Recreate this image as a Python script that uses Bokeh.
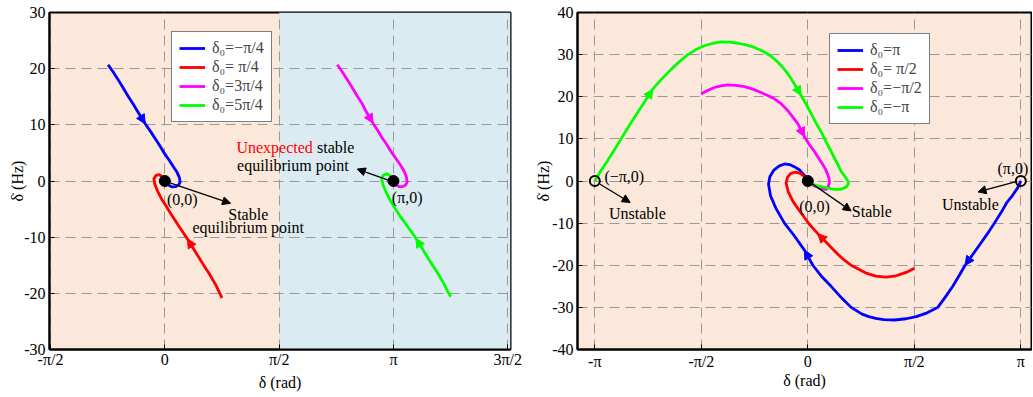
import math
from bokeh.plotting import figure
from bokeh.models import (Arrow, NormalHead, ColumnDataSource, BoxAnnotation, Legend, LegendItem,
                          FixedTicker, CustomJSTickFormatter)
from bokeh.layouts import row
from bokeh.core.properties import value
from bokeh.embed import file_html
from bokeh.resources import INLINE

PI = math.pi
FONT = "'Liberation Serif', 'Times New Roman', 'DejaVu Serif', serif"
FS = "16px"

# ---------------- data : left panel ----------------
L_LABELS = ["δ₀=−π/4", "δ₀= π/4", "δ₀=3π/4", "δ₀=5π/4"]
L_COLORS = ["#0000ff", "#ff0000", "#ff00ff", "#00ff00"]
L_BLUE_X = [-0.78, -0.71, -0.64, -0.57, -0.50, -0.44, -0.38, -0.27, -0.19, -0.12, -0.06, -0.01, 0.06,
            0.12, 0.17, 0.20, 0.21, 0.19, 0.15, 0.10, 0.05, 0.0]
L_BLUE_Y = [20.7, 19.4, 18.0, 16.5, 15.0, 13.8, 12.5, 10.2, 8.7, 7.3, 6.1, 5.0, 3.7,
            2.5, 1.5, 0.6, -0.2, -0.7, -1.0, -1.05, -0.7, 0.0]
L_RED_X = [0.785, 0.74, 0.70, 0.65, 0.60, 0.55, 0.50, 0.40, 0.31, 0.20, 0.14, 0.08, 0.02, -0.04, -0.10,
           -0.14, -0.15, -0.12, -0.08, -0.04, 0.0]
L_RED_Y = [-20.8, -19.6, -18.5, -17.4, -16.3, -15.3, -14.3, -12.2, -10.3, -8.2, -7.0, -5.8, -4.5, -3.3, -1.8,
           -0.5, 0.4, 1.0, 1.15, 0.8, 0.0]
L_MAG_X = [2.37, 2.44, 2.51, 2.58, 2.65, 2.71, 2.76, 2.86, 2.93, 2.99, 3.05, 3.10, 3.17,
           3.24, 3.29, 3.32, 3.33, 3.31, 3.27, 3.22, 3.18, 3.1416]
L_MAG_Y = [20.7, 19.4, 18.0, 16.5, 15.0, 13.8, 12.5, 10.3, 8.9, 7.6, 6.5, 5.4, 4.1,
           2.8, 1.7, 0.7, -0.2, -0.7, -1.0, -1.0, -0.7, 0.0]
L_GRN_X = [3.93, 3.88, 3.84, 3.79, 3.74, 3.69, 3.64, 3.54, 3.45, 3.34, 3.28, 3.22, 3.16, 3.10, 3.04,
           3.00, 2.98, 3.00, 3.05, 3.10, 3.1416]
L_GRN_Y = [-20.6, -19.5, -18.4, -17.3, -16.2, -15.2, -14.2, -12.1, -10.2, -8.2, -7.1, -6.0, -4.8, -3.5, -2.0,
           -0.7, 0.3, 1.0, 1.3, 0.9, 0.0]
L_ARROW_IDX = [[7], [8], [7], [8]]
L_EQ_X = [0.0, PI]
L_EQ_Y = [0.0, 0.0]
L_XTICKS = [-PI / 2, 0, PI / 2, PI, 3 * PI / 2]
L_XTICK_LABELS = ["-π/2", "0", "π/2", "π", "3π/2"]
L_YTICKS = [-30, -20, -10, 0, 10, 20, 30]
L_YTICK_LABELS = ["-30", "-20", "-10", "0", "10", "20", "30"]

# ---------------- data : right panel ----------------
R_LABELS = ["δ₀=π", "δ₀= π/2", "δ₀=−π/2", "δ₀=−π"]
R_COLORS = ["#0000ff", "#ff0000", "#ff00ff", "#00ff00"]
R_BLUE_X = [3.1416, 3.097, 3.02, 2.94, 2.85, 2.752, 2.65, 2.54, 2.43, 2.32, 2.23, 2.138, 2.03, 1.917,
            1.76, 1.60, 1.45, 1.277, 1.12, 1.0, 0.90, 0.80, 0.639, 0.50, 0.344, 0.20, 0.074,
            -0.05, -0.20, -0.345, -0.47, -0.55, -0.58, -0.56, -0.50, -0.42, -0.345, -0.27, -0.20,
            -0.12, -0.05, 0.0]
R_BLUE_Y = [0.0, -1.57, -3.4, -5.0, -7.5, -10.0, -12.5, -15.0, -17.5, -20.0, -22.5, -25.0, -27.5, -30.0,
            -31.3, -32.2, -32.7, -33.0, -32.9, -32.6, -32.2, -31.6, -30.0, -27.8, -25.0, -22.6, -20.0,
            -16.4, -13.0, -10.0, -6.5, -3.5, -0.8, 1.0, 2.6, 3.6, 4.05, 3.9, 3.4,
            2.6, 1.3, 0.0]
R_RED_X = [1.573, 1.45, 1.30, 1.155, 1.0, 0.85, 0.639, 0.54, 0.45, 0.37, 0.30, 0.22, 0.147, 0.08, 0.02,
           -0.04, -0.10, -0.16, -0.22, -0.29, -0.32, -0.30, -0.25, -0.18, -0.11, -0.05, 0.0]
R_RED_Y = [-20.7, -21.7, -22.5, -22.8, -22.6, -21.8, -20.0, -18.8, -17.5, -16.2, -15.0, -13.7, -12.5, -11.3,
           -10.2, -8.9, -7.6, -6.2, -4.8, -2.5, -0.5, 0.9, 1.8, 2.1, 1.8, 1.0, 0.0]
R_MAG_X = [-1.574, -1.48, -1.378, -1.28, -1.18, -1.06, -0.935, -0.81, -0.689, -0.59, -0.492, -0.39, -0.295,
           -0.147, -0.05, 0.02, 0.098, 0.16, 0.221, 0.265, 0.295, 0.315, 0.319, 0.30, 0.27, 0.22, 0.17,
           0.12, 0.074, 0.035, 0.0]
R_MAG_Y = [20.65, 21.5, 22.2, 22.6, 22.8, 22.7, 22.4, 21.8, 21.0, 20.3, 19.5, 18.3, 16.7,
           13.6, 10.5, 8.7, 7.0, 5.4, 3.9, 2.7, 1.5, 0.5, -0.4, -1.3, -2.0, -1.9, -1.6,
           -1.3, -1.0, -0.6, 0.0]
R_GRN_X = [-3.1416, -3.05, -2.95, -2.85, -2.755, -2.64, -2.52, -2.40, -2.288, -2.15, -2.016, -1.89, -1.770,
           -1.65, -1.525, -1.40, -1.279, -1.15, -1.032, -0.91, -0.787, -0.66, -0.541, -0.44, -0.345,
           -0.27, -0.198, -0.099, -0.02, 0.049, 0.12, 0.196, 0.27, 0.344, 0.42, 0.491, 0.55, 0.59,
           0.60, 0.57, 0.49, 0.40, 0.295, 0.18, 0.074, 0.0]
R_GRN_Y = [0.0, 2.5, 4.9, 7.5, 10.0, 13.0, 16.0, 19.0, 21.8, 24.3, 26.5, 28.4, 30.0,
           31.2, 32.1, 32.7, 33.0, 32.95, 32.7, 32.3, 31.7, 30.8, 29.6, 28.2, 26.5,
           24.9, 23.0, 20.3, 18.1, 16.0, 13.8, 11.7, 9.3, 7.0, 4.6, 2.3, 1.0, 0.0,
           -0.6, -1.4, -1.96, -2.0, -1.7, -1.3, -0.8, 0.0]
R_ARROW_IDX = [[9, 27], [12], [14], [8, 27]]
R_STABLE_X = [0.0]
R_STABLE_Y = [0.0]
R_UNSTABLE_X = [-PI, PI]
R_UNSTABLE_Y = [0.0, 0.0]
R_XTICKS = [-PI, -PI / 2, 0, PI / 2, PI]
R_XTICK_LABELS = ["-π", "-π/2", "0", "π/2", "π"]
R_YTICKS = [-40, -30, -20, -10, 0, 10, 20, 30, 40]
R_YTICK_LABELS = ["-40", "-30", "-20", "-10", "0", "10", "20", "30", "40"]

# ---------------- annotations ----------------
L_NOTE_ARROWS = dict(x0=[0.05, 3.08], y0=[-0.25, 0.1], x1=[0.903, 2.644], y1=[-3.97, 2.12])
L_NOTES = dict(x=[0.239, 1.146, 1.146, 3.33, 1.759], y=[-3.34, -5.88, -8.3, -2.93, 2.82],
               text=["(0,0)", "Stable", "equilibrium point", "(π,0)", "equilibrium point"])
R_NOTE_ARROWS = dict(x0=[-3.07, 3.06, 0.03], y0=[-0.7, -0.2, -0.3], x1=[-2.62, 2.51, 0.639], y1=[-5.1, -2.6, -7.1])
R_NOTES = dict(x=[-2.513, 3.024, 2.398, 0.098], y=[-7.6, 2.95, -5.47, -6.0],
               text=["Unstable", "(π,0)", "Unstable", "(0,0)"])

PEACH = "#fbe8da"
LBLUE = "#daecf2"


def fmt(vals, labs):
    return CustomJSTickFormatter(args=dict(vals=vals, labs=labs), code="""
        let best = 0, bd = Infinity;
        for (let i = 0; i < vals.length; i++) { const d = Math.abs(vals[i] - tick); if (d < bd) { bd = d; best = i; } }
        return labs[best];
    """)


def make_fig(width, height, xr, yr, xt, xl, yt, yl, mbl, mbt, mbb, mbr, xstand, ystand, xlstand):
    p = figure(width=width, height=height, x_range=xr, y_range=yr, output_backend="svg",
               toolbar_location=None, min_border_left=mbl, min_border_right=mbr,
               min_border_top=mbt, min_border_bottom=mbb, background_fill_color=PEACH,
               border_fill_color="white")
    p.outline_line_color = "black"
    p.outline_line_width = 2
    p.xaxis.ticker = FixedTicker(ticks=xt)
    p.xaxis.formatter = fmt(xt, xl)
    p.yaxis.ticker = FixedTicker(ticks=yt)
    p.yaxis.formatter = fmt(yt, yl)
    for ax in (p.xaxis[0], p.yaxis[0]):
        ax.axis_line_width = 2
        ax.axis_line_color = "black"
        ax.major_tick_in = 5
        ax.major_tick_out = 0
        ax.major_tick_line_color = "black"
        ax.minor_tick_line_color = None
        ax.major_label_text_font = FONT
        ax.major_label_text_font_size = FS
        ax.major_label_text_color = "black"
        ax.axis_label_text_font = FONT
        ax.axis_label_text_font_size = FS
        ax.axis_label_text_font_style = "normal"
        ax.axis_label_text_color = "black"
    p.xaxis.axis_label = "δ (rad)"
    p.yaxis.axis_label = "δ̇ (Hz)"
    p.xaxis.major_label_standoff = xstand
    p.xaxis.axis_label_standoff = xlstand
    p.yaxis.major_label_standoff = 4
    p.yaxis.axis_label_standoff = ystand
    p.xgrid.ticker = FixedTicker(ticks=xt)
    p.ygrid.ticker = FixedTicker(ticks=yt)
    p.grid.grid_line_color = "#9a9a9a"
    p.grid.grid_line_dash = "10 6"
    p.grid.grid_line_width = 1
    return p


def draw_curves(p, xs, ys, colors, labels, arrow_idx, loc):
    items = []
    for x, y, c, lab, idxs in zip(xs, ys, colors, labels, arrow_idx):
        r = p.line(x, y, line_color=c, line_width=2.8, line_join="round")
        items.append(LegendItem(label=lab, renderers=[r]))
        for i in idxs:
            p.add_layout(Arrow(end=NormalHead(size=9, fill_color=c, line_color=c, line_width=1),
                               x_start=x[i - 1], y_start=y[i - 1], x_end=x[i], y_end=y[i],
                               line_alpha=0))
    leg = Legend(items=items, location=loc, label_text_font=FONT, label_text_font_size=FS,
                 label_height=18, glyph_height=18, glyph_width=26, spacing=1, padding=7,
                 label_standoff=7, border_line_color="black", border_line_width=1,
                 background_fill_color="white", background_fill_alpha=1, margin=0)
    p.add_layout(leg, "center")


def note_arrows(p, d):
    src = ColumnDataSource(d)
    p.add_layout(Arrow(end=NormalHead(size=8, fill_color="black", line_color="black"),
                       source=src, x_start="x0", y_start="y0", x_end="x1", y_end="y1",
                       line_color="black", line_width=1.3))


# ---------------- left figure ----------------
p1 = make_fig(522, 393, (-1.585, 4.75), (-30, 30), L_XTICKS, L_XTICK_LABELS, L_YTICKS, L_YTICK_LABELS,
              49, 9, 40, 12, 1, -5, 3)
p1.add_layout(BoxAnnotation(left=PI / 2, fill_color=LBLUE, fill_alpha=1, line_color=None, level="image"))
draw_curves(p1, [L_BLUE_X, L_RED_X, L_MAG_X, L_GRN_X], [L_BLUE_Y, L_RED_Y, L_MAG_Y, L_GRN_Y],
            L_COLORS, L_LABELS, L_ARROW_IDX, (122, 227))
note_arrows(p1, L_NOTE_ARROWS)
p1.scatter(L_EQ_X, L_EQ_Y, size=11, fill_color="black", line_color="black")
p1.text(x="x", y="y", text="text", source=ColumnDataSource(L_NOTES), text_font=value(FONT),
        text_font_size=FS, text_align="center", text_baseline="middle", text_color="black")
p1.text(x=[2.034], y=[5.88], text=["Unexpected"], text_font=value(FONT), text_font_size=FS,
        text_align="right", text_baseline="middle", text_color="#ff0000")
p1.text(x=[2.092], y=[5.88], text=["stable"], text_font=value(FONT), text_font_size=FS,
        text_align="left", text_baseline="middle", text_color="black")

# ---------------- right figure ----------------
p2 = make_fig(510, 393, (-3.397, 3.299), (-40, 40), R_XTICKS, R_XTICK_LABELS, R_YTICKS, R_YTICK_LABELS,
              55, 12, 39, 1, 3, -3, -1)
draw_curves(p2, [R_BLUE_X, R_RED_X, R_MAG_X, R_GRN_X], [R_BLUE_Y, R_RED_Y, R_MAG_Y, R_GRN_Y],
            R_COLORS, R_LABELS, R_ARROW_IDX, (252, 225))
note_arrows(p2, R_NOTE_ARROWS)
p2.scatter(R_STABLE_X, R_STABLE_Y, size=11, fill_color="black", line_color="black")
p2.scatter(R_UNSTABLE_X, R_UNSTABLE_Y, size=10, fill_color=None, line_color="black", line_width=2)
p2.text(x="x", y="y", text="text", source=ColumnDataSource(R_NOTES), text_font=value(FONT),
        text_font_size=FS, text_align="center", text_baseline="middle", text_color="black")
p2.text(x=[-3.0, 0.649], y=[1.0, -7.3], text=["(−π,0)", "Stable"], text_font=value(FONT),
        text_font_size=FS, text_align="left", text_baseline="middle", text_color="black")

layout = row(p1, p2)
open("out.html", "w").write(file_html(layout, INLINE))
